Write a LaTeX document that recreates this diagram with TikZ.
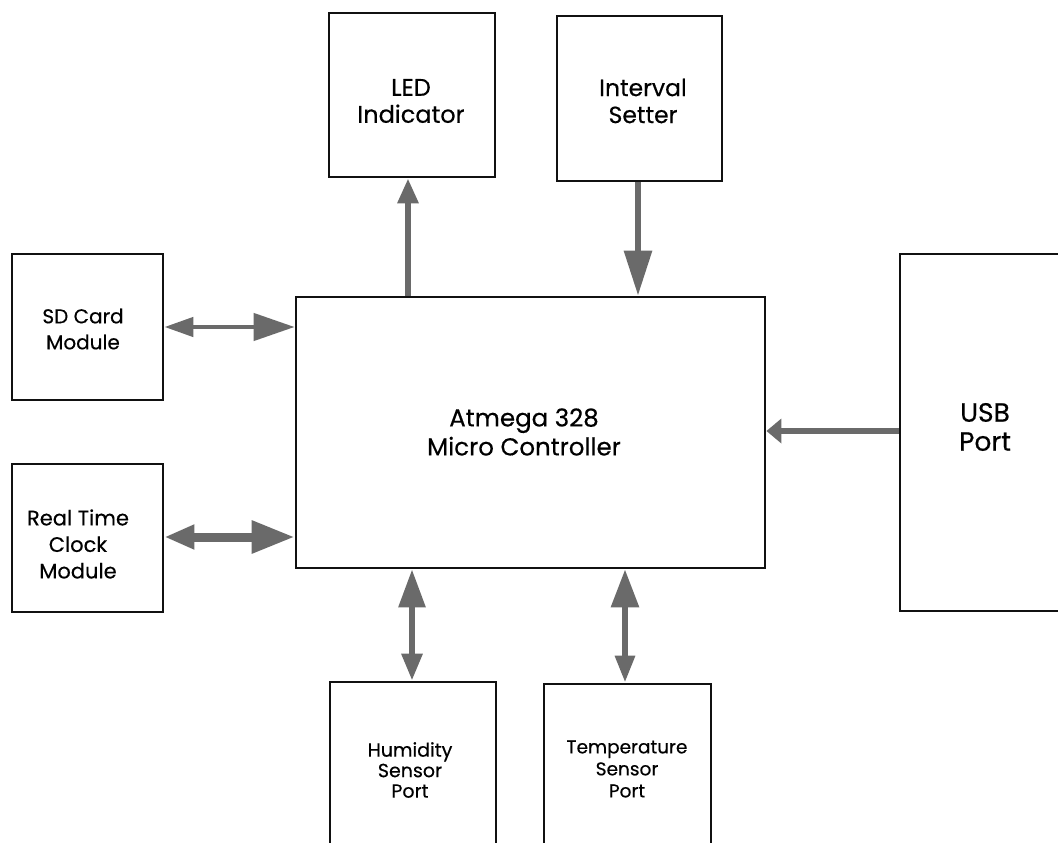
\documentclass[tikz,border=0pt]{standalone}
\usepackage{fontspec}
\setmainfont{Poppins}[FakeBold=0.4]
\usetikzlibrary{arrows.meta}
\definecolor{arrgray}{HTML}{6A6A6A}
\definecolor{boxline}{HTML}{111111}
\begin{document}
\begin{tikzpicture}[x=1pt,y=-1pt,
  box/.style={draw=boxline, line width=2.8pt, inner sep=0pt, fill=none},
  lbl/.style={align=center, inner sep=0pt, text=black},
  arr/.style={draw=arrgray, fill=arrgray, line width=6pt}
]
\clip (0,0) rectangle (1058,843);
\fill[white] (0,0) rectangle (1058,843);
% boxes
\node[box, minimum width=166pt, minimum height=164pt] (led)  at (412,95) {};
\node[box, minimum width=165pt, minimum height=165pt] (intv) at (639.5,98.5) {};
\node[box, minimum width=151pt, minimum height=146pt] (sd)   at (87.5,327) {};
\node[box, minimum width=151pt, minimum height=148pt] (rtc)  at (87.5,538) {};
\node[box, minimum width=469pt, minimum height=271pt] (main) at (530.5,432.5) {};
\node[box, minimum width=190pt, minimum height=357pt] (usb)  at (995,432.5) {};
\node[box, minimum width=166pt, minimum height=188pt] (hum)  at (413,776) {};
\node[box, minimum width=167pt, minimum height=186pt] (temp) at (627.5,777) {};
% labels
\node[lbl, font=\fontsize{24}{27}\selectfont] (ledt) at (411,101) {LED\\Indicator};
\node[lbl, font=\fontsize{23.5}{27}\selectfont] (intt) at (643,101) {Interval\\Setter};
\node[lbl, font=\fontsize{20}{26}\selectfont] (sdt) at (83,329) {SD Card\\Module};
\node[lbl, font=\fontsize{21}{26.5}\selectfont] (rtct) at (78,544) {Real Time\\Clock\\Module};
\node[lbl, font=\fontsize{24.5}{29}\selectfont] (maint) at (524,432) {Atmega 328\\Micro Controller};
\node[lbl, font=\fontsize{26.5}{29}\selectfont] (usbt) at (985,427) {USB\\Port};
\node[lbl, font=\fontsize{19}{20.5}\selectfont] (humt) at (410,770) {Humidity\\Sensor\\Port};
\node[lbl, font=\fontsize{18.5}{22}\selectfont] (tempt) at (627,769) {Temperature\\Sensor\\Port};
% arrow x/y positions
\coordinate (ledx) at (408,0);
\coordinate (intx) at (638,0);
\coordinate (sdy) at (0,327);
\coordinate (rtcy) at (0,537);
\coordinate (usby) at (0,431);
\coordinate (humx) at (412,0);
\coordinate (tempx) at (625,0);
% connectors
\draw[arr, line width=4.5pt, {Triangle[length=29pt,width=19pt]}-{Triangle[length=41pt,width=27pt]}]
  (sd.east |- sdy) -- (main.west |- sdy);
\draw[arr, line width=9pt, {Triangle[length=30pt,width=23pt]}-{Triangle[length=43pt,width=31pt]}]
  (rtc.east |- rtcy) -- (main.west |- rtcy);
\draw[arr, -{Triangle[length=25pt,width=20pt]}] (main.north -| ledx) -- (led.south -| ledx);
\draw[arr, -{Triangle[length=45pt,width=27pt]}] (intv.south -| intx) -- (main.north -| intx);
\draw[arr, -{Triangle[length=15pt,width=24pt]}] (usb.west |- usby) -- (main.east |- usby);
\draw[arr, {Triangle[length=38pt,width=26pt]}-{Triangle[length=27pt,width=20pt]}] (main.south -| humx) -- (hum.north -| humx);
\draw[arr, {Triangle[length=38pt,width=27pt]}-{Triangle[length=27pt,width=19pt]}] (main.south -| tempx) -- (temp.north -| tempx);
\end{tikzpicture}
\end{document}
